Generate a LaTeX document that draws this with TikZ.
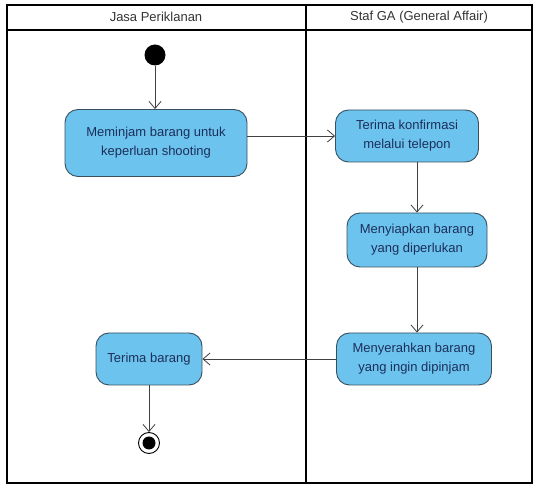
\documentclass[tikz,border=0pt]{standalone}
\usepackage{fontspec}
\setmainfont{Liberation Sans}
\usetikzlibrary{arrows.meta}
\definecolor{actfill}{HTML}{6CC4EE}
\definecolor{actdraw}{HTML}{3A4F5E}
\definecolor{acttext}{HTML}{1C2E5A}
\begin{document}
\begin{tikzpicture}[x=1pt,y=-1pt,
  lane/.style={draw=black,line width=1.4pt},
  action/.style={draw=actdraw,fill=actfill,line width=0.9pt,rounded corners=13pt,
    align=center,font=\fontsize{13}{19}\selectfont,text=acttext,inner sep=0pt},
  flow/.style={draw=black!75,line width=0.7pt,-{Straight Barb[length=7pt,width=12pt,line width=0.8pt]}},
  lanelabel/.style={font=\fontsize{13}{15}\selectfont,text=black!80}]
\useasboundingbox (0,0) rectangle (539,489);
% swimlane frame
\draw[lane] (7,5) rectangle (532,483);
\draw[lane] (7,30) -- (532,30);
\draw[lane] (306,5) -- (306,483);
\node[lanelabel] (laneA) at (156,17) {Jasa Periklanan};
\node[lanelabel] (laneB) at (419,17) {Staf GA (General Affair)};
% start and end
\node[circle,fill=black,minimum size=21pt,inner sep=0pt] (start) at (155,55) {};
\node[circle,draw=black,line width=0.9pt,minimum size=21pt,inner sep=0pt] (endo) at (149,443) {};
\node[circle,fill=black,minimum size=13pt,inner sep=0pt] (endi) at (149,443) {};
% actions
\node[action,minimum width=182pt,minimum height=67pt] (a1) at (156,143) {Meminjam barang untuk\\keperluan shooting};
\node[action,minimum width=143pt,minimum height=52pt] (a2) at (407,136) {Terima konfirmasi\\melalui telepon};
\node[action,minimum width=140pt,minimum height=54pt] (a3) at (417,240) {Menyiapkan barang\\yang diperlukan};
\node[action,minimum width=155pt,minimum height=52pt] (a4) at (414,359) {Menyerahkan barang\\yang ingin dipinjam};
\node[action,minimum width=106pt,minimum height=52pt] (a5) at (149,359) {Terima barang};
% control flows
\draw[flow] (start) -- (a1.north -| start);
\draw[flow] (a1.east |- a2) -- (a2.west);
\draw[flow] (a2.south -| a3) -- (a3.north);
\draw[flow] (a3.south) -- (a4.north -| a3);
\draw[flow] (a4.west) -- (a5.east);
\draw[flow] (a5.south) -- (endo.north);
\end{tikzpicture}
\end{document}
